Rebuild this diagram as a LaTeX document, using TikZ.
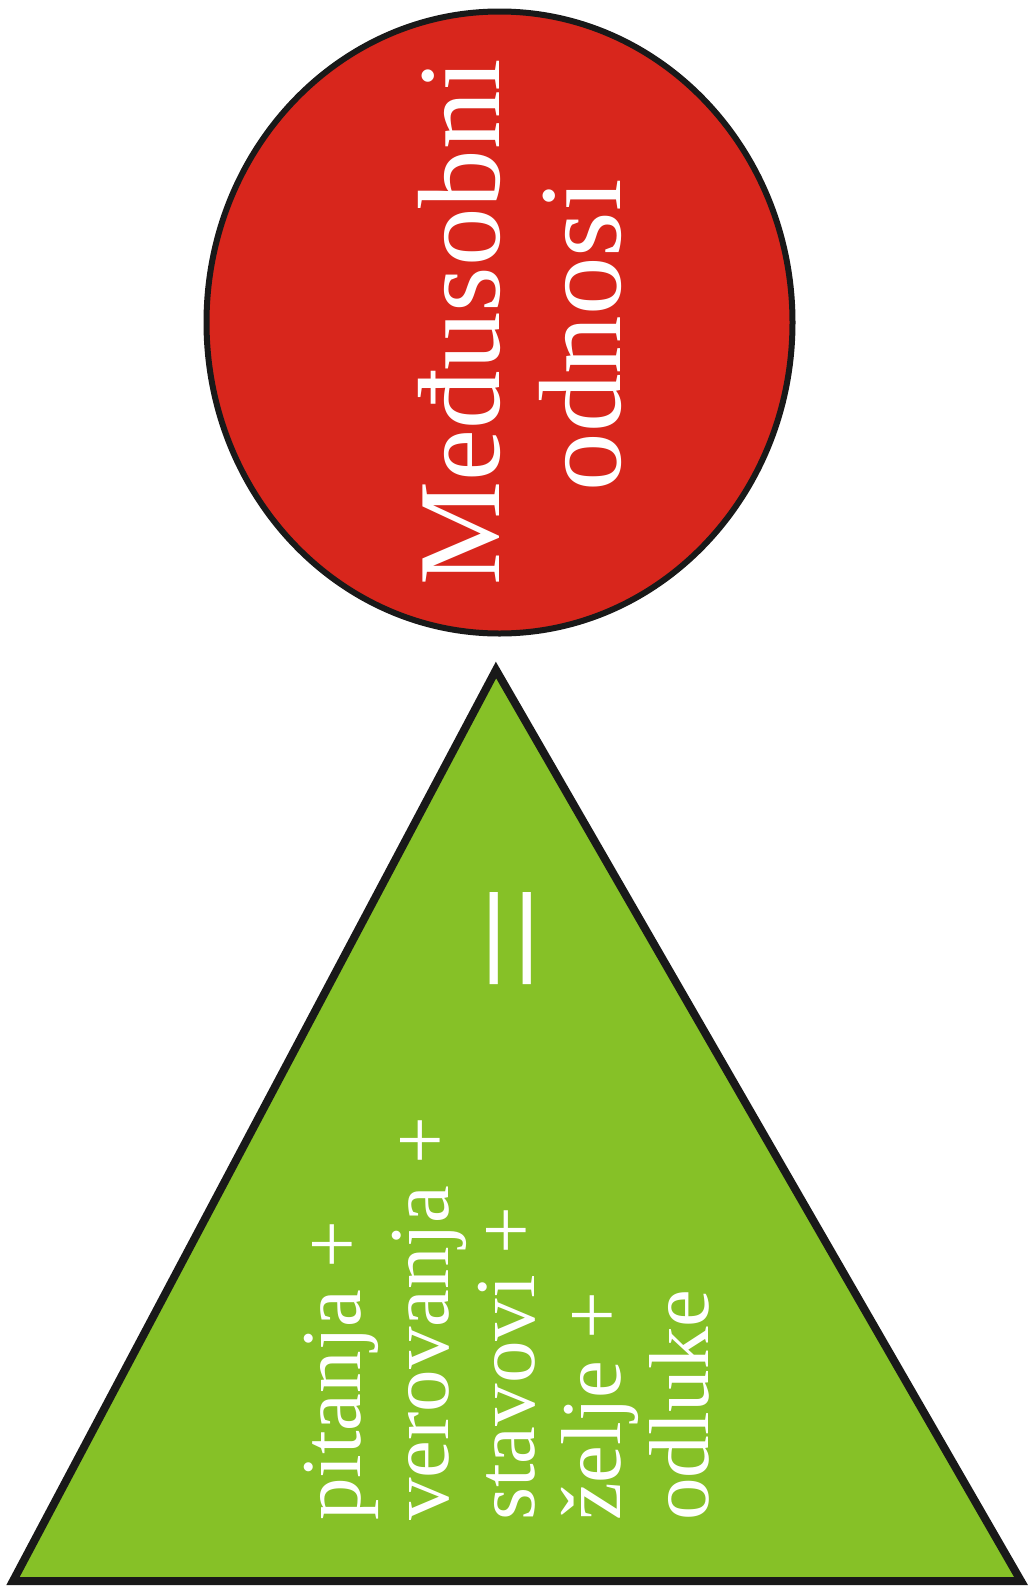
\documentclass[tikz,border=0pt]{standalone}
\usepackage{fontspec}
\setmainfont{Liberation Serif}
\definecolor{redfill}{HTML}{D8261C}
\definecolor{greenfill}{HTML}{86C127}
\begin{document}
\begin{tikzpicture}[x=1pt,y=-1pt,
  outline/.style={draw=black!90,line width=6pt},
  rtext/.style={text=white,rotate=90,inner sep=0pt}]
\useasboundingbox (0,0) rectangle (1033,1590);
\fill[white] (0,0) rectangle (1033,1590);
% circle
\draw[outline,fill=redfill] (499.5,322.5) ellipse [x radius=293, y radius=311];
\node[rtext,anchor=base,font=\fontsize{117}{120}\selectfont] (l1) at (499,322) {Međusobni};
\node[rtext,anchor=base,font=\fontsize{117}{120}\selectfont] (l2) at (620,335) {odnosi};
% triangle
\coordinate (ta) at (496,670);
\coordinate (tl) at (13,1581);
\coordinate (tr) at (1021,1581);
\draw[outline,line width=8pt,fill=greenfill] (ta) -- (tl) -- (tr) -- cycle;
\node[rtext,font=\fontsize{165}{165}\selectfont] (eq) at (528,939) {\scalebox{1.2}[1]{=}};
\node[rtext,anchor=base west,font=\fontsize{85}{85}\selectfont] (t1) at (360,1521) {pitanja +};
\node[rtext,anchor=base west,font=\fontsize{85}{85}\selectfont] (t2) at (448,1521) {verovanja +};
\node[rtext,anchor=base west,font=\fontsize{85}{85}\selectfont] (t3) at (534,1521) {stavovi +};
\node[rtext,anchor=base west,font=\fontsize{85}{85}\selectfont] (t4) at (620,1521) {želje +};
\node[rtext,anchor=base west,font=\fontsize{85}{85}\selectfont] (t5) at (708,1521) {odluke};
\end{tikzpicture}
\end{document}
